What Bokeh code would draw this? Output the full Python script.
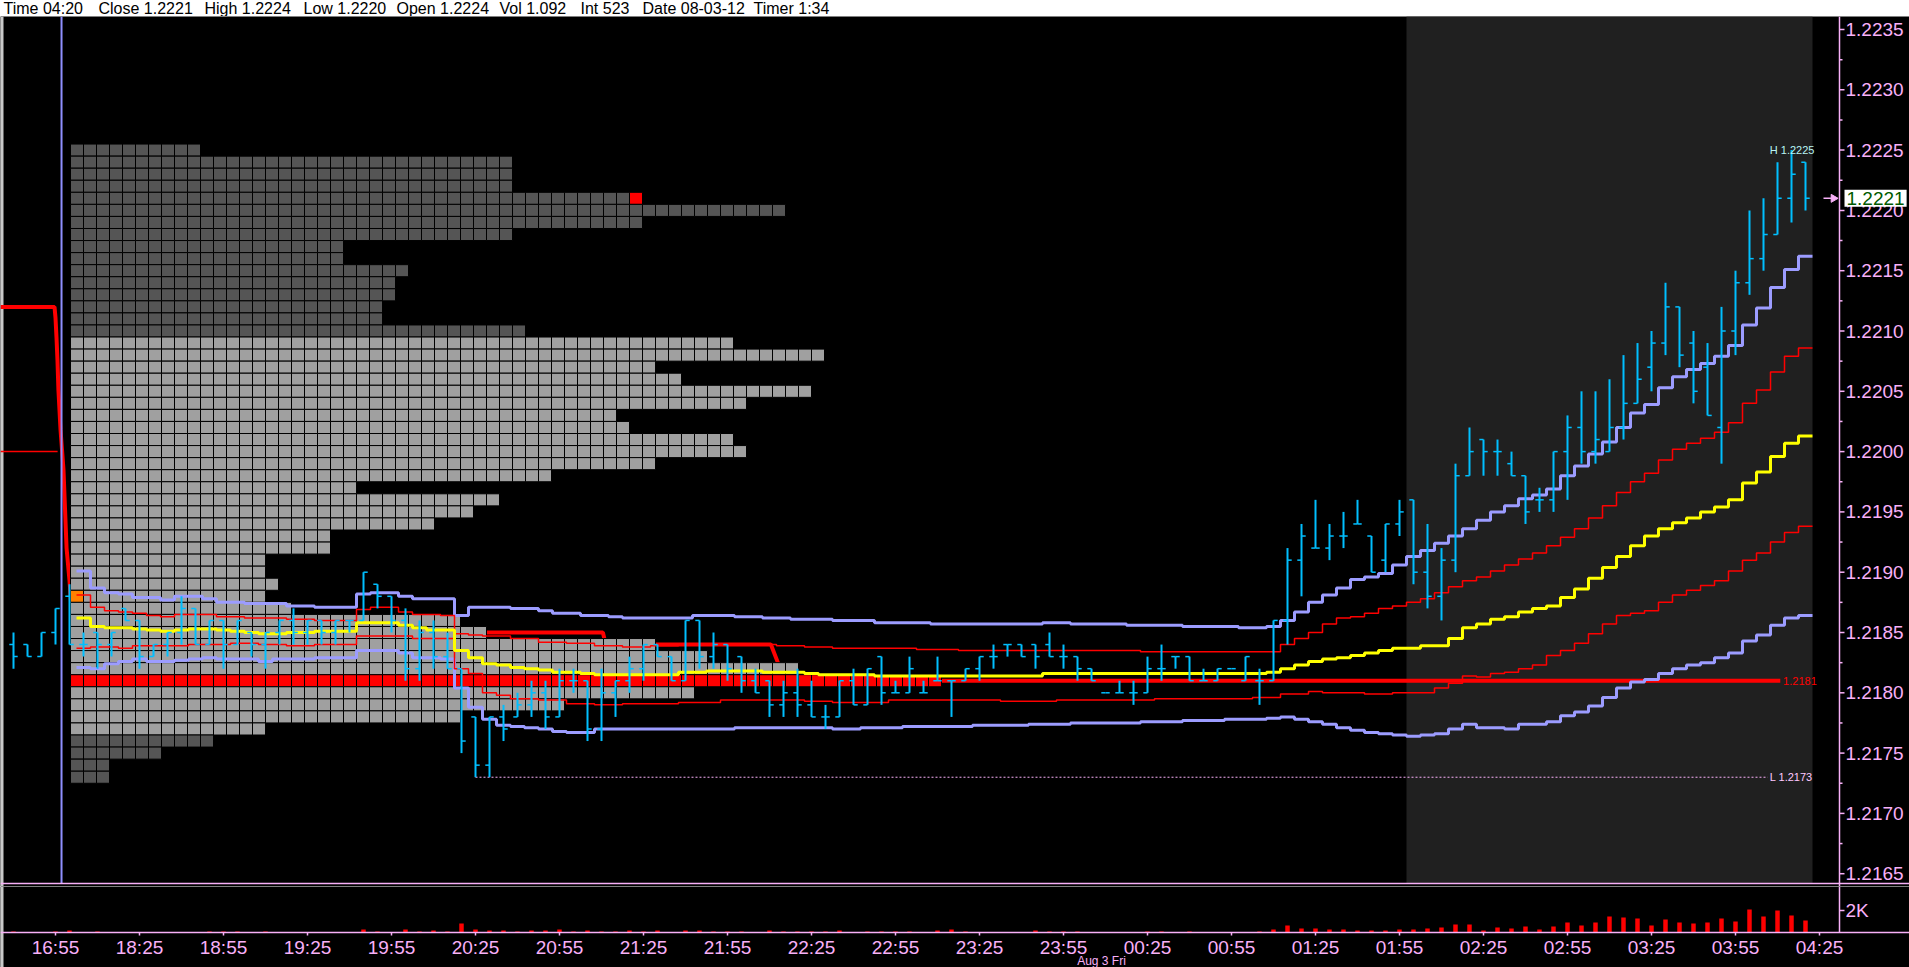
import math
from bokeh.plotting import figure
from bokeh.models import Range1d, FixedTicker, PrintfTickFormatter, Label, ColumnDataSource
from bokeh.layouts import column
from bokeh.embed import file_html
from bokeh.resources import INLINE
from bokeh.core.properties import value

# ------------------------------------------------------------------ DATA
header_fields = ["Time 04:20", "Close 1.2221", "High 1.2224", "Low 1.2220", "Open 1.2224",
                 "Vol 1.092", "Int 523", "Date 08-03-12", "Timer 1:34"]
header_x = [3, 98, 204, 303, 396, 499, 580, 642, 753]

bar_idx = list(range(-3, 126))
opens = [1.2184, 1.2184, 1.2183, 1.2185, 1.2188, 1.2184, 1.2185, 1.2184,
         1.2187, 1.2186, 1.2183, 1.2184, 1.2185, 1.2187, 1.2184, 1.2186, 1.2184, 1.2185,
         1.2184, 1.2185, 1.2186, 1.2185, 1.2186, 1.2185, 1.2186, 1.2186, 1.2189, 1.2188,
         1.2186, 1.2182, 1.2185, 1.2183, 1.2182, 1.2178, 1.2174, 1.2178, 1.2178, 1.2179,
         1.2180, 1.2178, 1.2181, 1.2181, 1.2177, 1.2180, 1.2181, 1.2182, 1.2184, 1.2183,
         1.2181, 1.2186, 1.2183, 1.2184, 1.2183, 1.2181, 1.2181, 1.2179, 1.2180, 1.2179,
         1.2178, 1.2178, 1.2181, 1.2179, 1.2183, 1.2180, 1.2180, 1.2180, 1.2181, 1.2181,
         1.2181, 1.2182, 1.2183, 1.2184, 1.2184, 1.2184, 1.2184, 1.2183, 1.2183, 1.2182,
         1.2180, 1.2180, 1.2180, 1.2180, 1.2182, 1.2183, 1.2183, 1.2181, 1.2181, 1.2182,
         1.2181, 1.2181, 1.2181, 1.2186, 1.2191, 1.2192, 1.2192, 1.2193, 1.2194, 1.2193,
         1.2191, 1.2194, 1.2196, 1.2190, 1.2188, 1.2191, 1.2198, 1.2201, 1.2200, 1.2199,
         1.2198, 1.2196, 1.2196, 1.2200, 1.2202, 1.2200, 1.2200, 1.2202, 1.2204, 1.2207,
         1.2209, 1.2212, 1.2209, 1.2207, 1.2202, 1.2210, 1.2214, 1.2216, 1.2218, 1.2221, 1.2224]
highs = [1.2185, 1.2184, 1.2185, 1.2187, 1.2189, 1.2185, 1.2185, 1.2185,
         1.2187, 1.2186, 1.2184, 1.2185, 1.2188, 1.2187, 1.2186, 1.2186, 1.2186, 1.2185,
         1.2185, 1.2186, 1.2187, 1.2186, 1.2186, 1.2186, 1.2186, 1.2190, 1.2189, 1.2188,
         1.2187, 1.2186, 1.2186, 1.2185, 1.2182, 1.2178, 1.2178, 1.2179, 1.2180, 1.2181,
         1.2181, 1.2182, 1.2182, 1.2181, 1.2182, 1.2181, 1.2183, 1.2184, 1.2184, 1.2183,
         1.2186, 1.2186, 1.2185, 1.2184, 1.2183, 1.2182, 1.2181, 1.2181, 1.2182, 1.2181,
         1.2179, 1.2181, 1.2182, 1.2182, 1.2183, 1.2181, 1.2183, 1.2181, 1.2183, 1.2181,
         1.2182, 1.2183, 1.2184, 1.2184, 1.2184, 1.2184, 1.2185, 1.2184, 1.2183, 1.2182,
         1.2180, 1.2181, 1.2181, 1.2183, 1.2184, 1.2183, 1.2183, 1.2182, 1.2182, 1.2182,
         1.2183, 1.2182, 1.2186, 1.2192, 1.2194, 1.2196, 1.2194, 1.2195, 1.2196, 1.2193,
         1.2194, 1.2196, 1.2196, 1.2194, 1.2192, 1.2199, 1.2202, 1.2201, 1.2201, 1.2200,
         1.2198, 1.2197, 1.2200, 1.2203, 1.2205, 1.2205, 1.2206, 1.2208, 1.2209, 1.2210,
         1.2214, 1.2212, 1.2210, 1.2209, 1.2212, 1.2215, 1.2220, 1.2221, 1.2224, 1.2225, 1.2224]
lows = [1.2182, 1.2183, 1.2183, 1.2184, 1.2184, 1.2183, 1.2182, 1.2183,
        1.2186, 1.2182, 1.2183, 1.2183, 1.2184, 1.2184, 1.2184, 1.2182, 1.2184, 1.2183,
        1.2182, 1.2184, 1.2184, 1.2184, 1.2184, 1.2184, 1.2185, 1.2186, 1.2187, 1.2185,
        1.2181, 1.2181, 1.2182, 1.2182, 1.2175, 1.2173, 1.2173, 1.2176, 1.2178, 1.2178,
        1.2177, 1.2178, 1.2180, 1.2176, 1.2176, 1.2178, 1.2180, 1.2181, 1.2183, 1.2181,
        1.2181, 1.2182, 1.2182, 1.2181, 1.2180, 1.2180, 1.2178, 1.2178, 1.2178, 1.2178,
        1.2177, 1.2178, 1.2179, 1.2179, 1.2179, 1.2180, 1.2180, 1.2180, 1.2181, 1.2178,
        1.2181, 1.2181, 1.2182, 1.2183, 1.2183, 1.2182, 1.2183, 1.2182, 1.2181, 1.2181,
        1.2180, 1.2180, 1.2179, 1.2180, 1.2181, 1.2182, 1.2181, 1.2181, 1.2181, 1.2182,
        1.2181, 1.2179, 1.2181, 1.2184, 1.2188, 1.2192, 1.2191, 1.2192, 1.2194, 1.2190,
        1.2190, 1.2193, 1.2189, 1.2187, 1.2186, 1.2190, 1.2198, 1.2198, 1.2198, 1.2198,
        1.2194, 1.2195, 1.2195, 1.2196, 1.2199, 1.2199, 1.2200, 1.2201, 1.2204, 1.2205,
        1.2208, 1.2207, 1.2204, 1.2203, 1.2199, 1.2208, 1.2213, 1.2215, 1.2218, 1.2219, 1.2220]
closes = [1.2183, 1.2183, 1.2185, 1.2187, 1.2184, 1.2184, 1.2184, 1.2185,
          1.2186, 1.2183, 1.2184, 1.2185, 1.2187, 1.2184, 1.2186, 1.2184, 1.2186, 1.2184,
          1.2185, 1.2186, 1.2185, 1.2186, 1.2185, 1.2186, 1.2186, 1.2190, 1.2188, 1.2186,
          1.2182, 1.2185, 1.2183, 1.2182, 1.2176, 1.2174, 1.2178, 1.2177, 1.2179, 1.2180,
          1.2178, 1.2181, 1.2181, 1.2177, 1.2180, 1.2181, 1.2182, 1.2184, 1.2183, 1.2181,
          1.2186, 1.2183, 1.2184, 1.2182, 1.2181, 1.2180, 1.2179, 1.2180, 1.2179, 1.2178,
          1.2178, 1.2181, 1.2179, 1.2182, 1.2180, 1.2180, 1.2182, 1.2180, 1.2181, 1.2181,
          1.2182, 1.2183, 1.2183, 1.2184, 1.2183, 1.2183, 1.2183, 1.2183, 1.2182, 1.2181,
          1.2180, 1.2180, 1.2180, 1.2182, 1.2182, 1.2183, 1.2181, 1.2181, 1.2182, 1.2182,
          1.2183, 1.2181, 1.2186, 1.2191, 1.2193, 1.2192, 1.2193, 1.2193, 1.2194, 1.2190,
          1.2194, 1.2195, 1.2190, 1.2188, 1.2191, 1.2198, 1.2200, 1.2200, 1.2200, 1.2198,
          1.2195, 1.2196, 1.2200, 1.2202, 1.2200, 1.2201, 1.2202, 1.2204, 1.2206, 1.2209,
          1.2212, 1.2208, 1.2205, 1.2203, 1.2210, 1.2214, 1.2216, 1.2218, 1.2221, 1.2223, 1.2221]
volumes = [90, 0, 0, 90, 180, 0, 90, 0,
           0, 0, 0, 0, 0, 0, 90, 90, 90, 0,
           90, 0, 0, 0, 0, 0, 0, 270, 90, 0,
           270, 90, 180, 90, 820, 270, 180, 180, 90, 180,
           180, 270, 90, 180, 90, 90, 180, 90, 180, 0,
           180, 180, 90, 90, 90, 0, 180, 90, 90, 90,
           90, 180, 0, 90, 90, 90, 90, 0, 180, 270,
           90, 0, 0, 0, 0, 180, 90, 90, 90, 0,
           0, 0, 0, 90, 90, 0, 90, 0, 0, 0,
           0, 90, 270, 640, 360, 360, 270, 270, 180, 180,
           180, 270, 270, 360, 455, 730, 730, 180, 455, 360,
           545, 270, 545, 910, 640, 910, 1455, 1365, 1270, 640,
           1180, 910, 820, 910, 1270, 1000, 2090, 1455, 2000, 1545, 1092]

# VWAP and deviation bands: (bar edge index where a step starts, price)
vwap = [(1.5, 1.21862), (2.5, 1.21855), (3.5, 1.21854), (5.5, 1.21853), (6.5, 1.21852), (7.5, 1.21851),
        (8.5, 1.21852), (9.5, 1.21853), (11.5, 1.21852), (12.5, 1.21851), (13.5, 1.21850), (14.5, 1.21849),
        (16.5, 1.21850), (18.5, 1.21851), (21.5, 1.21858), (24.5, 1.21856), (25.5, 1.21854), (26.5, 1.21852),
        (28.5, 1.21835), (29.5, 1.21829), (30.5, 1.21824), (31.5, 1.21823), (32.5, 1.21821), (33.5, 1.21820),
        (34.5, 1.21819), (35.5, 1.21817), (37.5, 1.21816), (38.5, 1.21815), (44.5, 1.21817), (46.5, 1.21818),
        (50.5, 1.21817), (53.5, 1.21816), (54.5, 1.21815), (58.5, 1.21814), (70.5, 1.21816), (86.5, 1.21817),
        (87.5, 1.21820), (88.5, 1.21823), (89.5, 1.21826), (90.5, 1.21828), (91.5, 1.21829), (92.5, 1.21831),
        (93.5, 1.21833), (94.5, 1.21835), (95.5, 1.21837), (97.5, 1.21839), (99.5, 1.21845), (100.5, 1.21854),
        (101.5, 1.21857), (102.5, 1.21861), (103.5, 1.21863), (104.5, 1.21867), (105.5, 1.21870),
        (106.5, 1.21872), (107.5, 1.21879), (108.5, 1.21886), (109.5, 1.21895), (110.5, 1.21904),
        (111.5, 1.21913), (112.5, 1.21922), (113.5, 1.21930), (114.5, 1.21936), (115.5, 1.21941),
        (116.5, 1.21945), (117.5, 1.21950), (118.5, 1.21954), (119.5, 1.21960), (120.5, 1.21974),
        (121.5, 1.21983), (122.5, 1.21996), (123.5, 1.22007), (124.5, 1.22013), (125.5, 1.22013)]
band_up1 = [(1.5, 1.21881), (2.5, 1.21871), (3.5, 1.21868), (4.5, 1.21867), (5.5, 1.21866), (6.5, 1.21864),
            (7.5, 1.21863), (8.5, 1.21865), (11.5, 1.21863), (13.5, 1.21862), (16.5, 1.21861), (18.5, 1.21860),
            (21.5, 1.21869), (22.5, 1.21871), (24.5, 1.21867), (25.5, 1.21865), (27.5, 1.21864), (28.5, 1.21849),
            (29.5, 1.21848), (30.5, 1.21847), (32.5, 1.21845), (34.5, 1.21842), (36.5, 1.21841), (38.5, 1.21839),
            (40.5, 1.21838), (42.5, 1.21839), (44.5, 1.21840), (51.5, 1.21839), (53.5, 1.21838), (55.5, 1.21837),
            (61.5, 1.21836), (64.5, 1.21835), (77.5, 1.21834), (87.5, 1.21840), (88.5, 1.21845), (89.5, 1.21850),
            (90.5, 1.21857), (91.5, 1.21862), (92.5, 1.21863), (93.5, 1.21866), (94.5, 1.21870), (95.5, 1.21872),
            (96.5, 1.21875), (97.5, 1.21878), (98.5, 1.21883), (99.5, 1.21888), (100.5, 1.21893),
            (101.5, 1.21896), (102.5, 1.21901), (103.5, 1.21906), (104.5, 1.21911), (105.5, 1.21916),
            (106.5, 1.21922), (107.5, 1.21929), (108.5, 1.21936), (109.5, 1.21945), (110.5, 1.21955),
            (111.5, 1.21966), (112.5, 1.21975), (113.5, 1.21982), (114.5, 1.21993), (115.5, 1.22002),
            (116.5, 1.22007), (117.5, 1.22011), (118.5, 1.22016), (119.5, 1.22024), (120.5, 1.22040),
            (121.5, 1.22051), (122.5, 1.22066), (123.5, 1.22079), (124.5, 1.22086), (125.5, 1.22086)]
band_dn1 = [(1.5, 1.21837), (2.5, 1.21838), (4.5, 1.21837), (5.5, 1.21839), (9.5, 1.21840), (12.5, 1.21841),
            (14.5, 1.21840), (16.5, 1.21839), (18.5, 1.21840), (21.5, 1.21847), (25.5, 1.21845), (28.5, 1.21820),
            (29.5, 1.21816), (30.5, 1.21800), (31.5, 1.21798), (32.5, 1.21795), (34.5, 1.21794), (36.5, 1.21791),
            (38.5, 1.21790), (40.5, 1.21791), (44.5, 1.21792), (47.5, 1.21794), (53.5, 1.21793), (55.5, 1.21792),
            (59.5, 1.21794), (67.5, 1.21793), (71.5, 1.21794), (78.5, 1.21795), (85.5, 1.21796), (87.5, 1.21799),
            (89.5, 1.21801), (90.5, 1.21800), (93.5, 1.21799), (95.5, 1.21800), (98.5, 1.21804), (99.5, 1.21808),
            (100.5, 1.21814), (101.5, 1.21813), (102.5, 1.21816), (103.5, 1.21817), (104.5, 1.21820),
            (105.5, 1.21823), (106.5, 1.21831), (107.5, 1.21835), (108.5, 1.21841), (109.5, 1.21849),
            (110.5, 1.21857), (111.5, 1.21864), (112.5, 1.21866), (113.5, 1.21868), (114.5, 1.21875),
            (115.5, 1.21881), (116.5, 1.21885), (117.5, 1.21889), (118.5, 1.21893), (119.5, 1.21901),
            (120.5, 1.21910), (121.5, 1.21916), (122.5, 1.21925), (123.5, 1.21933), (124.5, 1.21938),
            (125.5, 1.21938)]
band_up2 = [(1.5, 1.21901), (2.5, 1.21887), (3.5, 1.21883), (4.5, 1.21882), (5.5, 1.21879), (7.5, 1.21877),
            (8.5, 1.21880), (10.5, 1.21878), (11.5, 1.21875), (13.5, 1.21874), (16.5, 1.21872), (18.5, 1.21871),
            (21.5, 1.21882), (22.5, 1.21883), (24.5, 1.21880), (25.5, 1.21878), (28.5, 1.21864), (29.5, 1.21871),
            (32.5, 1.21870), (34.5, 1.21868), (35.5, 1.21866), (37.5, 1.21864), (39.5, 1.21863), (40.5, 1.21862),
            (45.5, 1.21864), (48.5, 1.21863), (50.5, 1.21862), (52.5, 1.21861), (55.5, 1.21860), (58.5, 1.21858),
            (62.5, 1.21857), (70.5, 1.21858), (72.5, 1.21857), (76.5, 1.21856), (80.5, 1.21855), (84.5, 1.21854),
            (86.5, 1.21855), (87.5, 1.21860), (88.5, 1.21867), (89.5, 1.21875), (90.5, 1.21881), (91.5, 1.21887),
            (92.5, 1.21894), (93.5, 1.21896), (94.5, 1.21899), (95.5, 1.21906), (96.5, 1.21913), (97.5, 1.21918),
            (98.5, 1.21924), (99.5, 1.21930), (100.5, 1.21936), (101.5, 1.21943), (102.5, 1.21950),
            (103.5, 1.21955), (104.5, 1.21961), (105.5, 1.21964), (106.5, 1.21969), (107.5, 1.21980),
            (108.5, 1.21988), (109.5, 1.21998), (110.5, 1.22008), (111.5, 1.22020), (112.5, 1.22032),
            (113.5, 1.22039), (114.5, 1.22053), (115.5, 1.22062), (116.5, 1.22068), (117.5, 1.22073),
            (118.5, 1.22079), (119.5, 1.22088), (120.5, 1.22105), (121.5, 1.22119), (122.5, 1.22136),
            (123.5, 1.22151), (124.5, 1.22162), (125.5, 1.22162)]
band_dn2 = [(1.5, 1.21821), (2.5, 1.21820), (3.5, 1.21824), (4.5, 1.21826), (5.5, 1.21828), (6.5, 1.21826),
            (8.5, 1.21827), (9.5, 1.21828), (10.5, 1.21829), (11.5, 1.21828), (14.5, 1.21826), (15.5, 1.21828),
            (18.5, 1.21829), (21.5, 1.21835), (24.5, 1.21833), (25.5, 1.21829), (27.5, 1.21828), (28.5, 1.21804),
            (29.5, 1.21788), (30.5, 1.21778), (31.5, 1.21773), (32.5, 1.21772), (33.5, 1.21771), (34.5, 1.21770),
            (35.5, 1.21768), (36.5, 1.21767), (38.5, 1.21770), (48.5, 1.21771), (54.5, 1.21771), (55.5, 1.21770),
            (57.5, 1.21771), (60.5, 1.21772), (65.5, 1.21773), (69.5, 1.21774), (72.5, 1.21775), (77.5, 1.21776),
            (80.5, 1.21777), (83.5, 1.21778), (86.5, 1.21779), (87.5, 1.21780), (88.5, 1.21778), (89.5, 1.21776),
            (90.5, 1.21774), (91.5, 1.21771), (92.5, 1.21769), (93.5, 1.21767), (94.5, 1.21766), (95.5, 1.21765),
            (96.5, 1.21764), (97.5, 1.21765), (98.5, 1.21766), (99.5, 1.21770), (100.5, 1.21774),
            (101.5, 1.21771), (103.5, 1.21770), (104.5, 1.21774), (106.5, 1.21776), (107.5, 1.21781),
            (108.5, 1.21784), (109.5, 1.21789), (110.5, 1.21796), (111.5, 1.21804), (112.5, 1.21809),
            (113.5, 1.21811), (114.5, 1.21816), (115.5, 1.21820), (116.5, 1.21823), (117.5, 1.21825),
            (118.5, 1.21829), (119.5, 1.21833), (120.5, 1.21843), (121.5, 1.21848), (122.5, 1.21856),
            (123.5, 1.21862), (124.5, 1.21864), (125.5, 1.21864)]
# developing point of control (thick red)
dpoc = [(-3.93, 1.2212), (-0.07, 1.2212), (0.0, 1.22111), (0.07, 1.22095), (0.14, 1.22076), (0.21, 1.22051),
        (0.36, 1.22018), (0.57, 1.21985), (0.79, 1.21920), (1.0, 1.21893), (1.2, 1.2186), (1.5, 1.2185),
        (39.1, 1.2185), (39.3, 1.2184), (51.1, 1.2184), (51.6, 1.21825), (52.0, 1.2181), (123.2, 1.2181)]
prev_band = [(-3.93, 1.2200), (0.15, 1.2200)]

# market profile (TPO counts per price row, from 1.2225 downward)
PROFILE_TOP = 1.2225
profile_counts = [10, 34, 34, 34, 44, 55, 44, 34, 21, 21, 26, 25, 25, 24, 24, 35,
                  51, 58, 45, 47, 57, 52, 42, 43, 51, 52, 45, 37, 22, 33, 31, 28, 20, 20,
                  15, 15, 16, 15, 17, 30, 32, 45, 49, 56, 67, 48, 38, 30, 15,
                  11, 7, 3, 3]
VA_HIGH, VA_LOW, POC = 1.2209, 1.2177, 1.2181

time_tick_idx = [0, 6, 12, 18, 24, 30, 36, 42, 48, 54, 60, 66, 72, 78, 84, 90, 96, 102, 108, 114, 120, 126]
time_tick_labels = ["16:55", "18:25", "18:55", "19:25", "19:55", "20:25", "20:55", "21:25", "21:55", "22:25",
                    "22:55", "23:25", "23:55", "00:25", "00:55", "01:25", "01:55", "02:25", "02:55", "03:25",
                    "03:55", "04:25"]
date_label = "Aug 3 Fri"
price_ticks = [1.2165, 1.2170, 1.2175, 1.2180, 1.2185, 1.2190, 1.2195, 1.2200, 1.2205, 1.2210,
               1.2215, 1.2220, 1.2225, 1.2230, 1.2235]
vol_ticks = [2000]
SESSION_START = 0.43
LONDON_START, LONDON_END = 96.5, 125.5

# ------------------------------------------------------------------ STYLE / LAYOUT
PINK = "#F8B0F8"
CYAN = "#00BFFF"
LAV = "#9C9CFF"
RED = "#FF0000"
YEL = "#FFFF00"
DARK = "#555555"
LIGHT = "#A0A0A0"
FONT = "Liberation Sans"
W = 1909


def XE(px):      # reference pixel column -> bar index
    return (px - 55) / 14.0


def PY(py):      # reference pixel row -> price
    return 1.2180 + (692.3 - py) / 120600.0


def VY(py):      # reference pixel row -> volume
    return (932 - py) * 2000 / 22.0


X0, X1 = XE(0), XE(W)
P_TOP, P_BOT = PY(16), PY(886)
AXIS_X = XE(1839)


def strip(fig):
    fig.background_fill_color = "black"
    fig.border_fill_color = "black"
    fig.outline_line_color = None
    fig.grid.visible = False


def side_axis(ax, standoff):
    ax.axis_line_color = None
    ax.major_tick_line_color = None
    ax.minor_tick_line_color = None
    ax.major_tick_out = 0
    ax.major_tick_in = 0
    ax.minor_tick_out = 0
    ax.minor_tick_in = 0
    ax.major_label_standoff = standoff
    ax.major_label_text_color = PINK
    ax.major_label_text_font = FONT
    ax.major_label_text_font_size = "19px"


# header strip
hdr = figure(frame_width=W, frame_height=16, x_range=Range1d(0, W), y_range=Range1d(0, 16),
             output_backend="svg", toolbar_location=None, x_axis_location=None, y_axis_location=None,
             min_border=0)
hdr.background_fill_color = "white"
hdr.border_fill_color = "white"
hdr.outline_line_color = None
hdr.grid.visible = False
hdr.text(x=header_x, y=[8.5] * len(header_x), text=header_fields, text_font=value(FONT),
         text_font_size="16px", text_baseline="middle", text_color="black")

# price panel
p = figure(frame_width=W, frame_height=870, x_range=Range1d(X0, X1), y_range=Range1d(P_BOT, P_TOP),
           output_backend="svg", toolbar_location=None, x_axis_location=None, y_axis_location="right",
           min_border=0)
strip(p)
ya = p.yaxis[0]
ya.ticker = FixedTicker(ticks=price_ticks, minor_ticks=[])
ya.formatter = PrintfTickFormatter(format="%.4f")
side_axis(ya, -64)

minor_price = [t + 0.00025 for t in price_ticks] + [price_ticks[0] - 0.00025]

# window edge and current-session shading
p.quad(left=[X0], right=[X0 + 3 / 14.0], bottom=[P_BOT], top=[P_TOP], fill_color="#C8C8C8", line_color=None)
p.quad(left=[LONDON_START], right=[LONDON_END], bottom=[PY(883)], top=[P_TOP], fill_color="#202020",
       line_color=None)

# developing POC + previous band (under the profile)
p.line([d[0] for d in prev_band], [d[1] for d in prev_band], line_color=RED, line_width=1.5)
p.line([d[0] for d in dpoc], [d[1] for d in dpoc], line_color=RED, line_width=4)

# market profile cells
CELL_X0 = XE(70)
CELL_W = 13 / 14.0
session_open = opens[bar_idx.index(1)]
last_price = closes[-1]
cl, cr, cb, ct, cc = [], [], [], [], []
for k, n in enumerate(profile_counts):
    pr = round(PROFILE_TOP - 0.0001 * k, 4)
    for j in range(n):
        if abs(pr - POC) < 1e-7:
            col = RED
        elif abs(pr - session_open) < 1e-7 and j == 0:
            col = "#FF8000"
        elif abs(pr - last_price) < 1e-7 and j == n - 1:
            col = RED
        elif VA_LOW - 1e-7 <= pr <= VA_HIGH + 1e-7:
            col = LIGHT
        else:
            col = DARK
        cl.append(CELL_X0 + j * CELL_W)
        cr.append(CELL_X0 + (j + 1) * CELL_W)
        cb.append(pr - 0.00005)
        ct.append(pr + 0.00005)
        cc.append(col)
p.quad(left=cl, right=cr, bottom=cb, top=ct, fill_color=cc, line_color="black", line_width=1)

# session start line
p.segment(x0=[SESSION_START], y0=[PY(883)], x1=[SESSION_START], y1=[P_TOP], line_color="#9090FF", line_width=2)

# session low dotted line
lo = min(lows)
lo_i = bar_idx[lows.index(lo)]
p.segment(x0=[lo_i], y0=[lo], x1=[122.3], y1=[lo], line_color=PINK, line_width=1, line_dash="2 2")


def stepline(pts, color, width):
    p.step([q[0] for q in pts], [q[1] for q in pts], mode="after", line_color=color, line_width=width)


stepline(band_up2, LAV, 3)
stepline(band_dn2, LAV, 3)
stepline(band_up1, RED, 1.5)
stepline(band_dn1, RED, 1.5)
stepline(vwap, YEL, 3)

# OHLC bars
src = ColumnDataSource(dict(x=bar_idx, o=opens, h=highs, l=lows, c=closes,
                            xl=[b - 0.3 for b in bar_idx], xr=[b + 0.3 for b in bar_idx]))
p.segment(x0="x", y0="l", x1="x", y1="h", source=src, line_color=CYAN, line_width=2)
p.segment(x0="xl", y0="o", x1="x", y1="o", source=src, line_color=CYAN, line_width=1.5)
p.segment(x0="x", y0="c", x1="xr", y1="c", source=src, line_color=CYAN, line_width=1.5)

hi = max(highs)
p.text(x=[122.45], y=[hi], text=["H %.4f" % hi], text_font=value(FONT), text_font_size="11px",
       text_baseline="middle", text_color="#B8F4F4")
p.text(x=[122.45], y=[lo], text=["L %.4f" % lo], text_font=value(FONT), text_font_size="11px",
       text_baseline="middle", text_color="#FFC8FF")
p.text(x=[123.4], y=[POC], text=["%.4f" % POC], text_font=value(FONT), text_font_size="11px",
       text_baseline="middle", text_color=RED)

# price-axis rule, ticks and panel separator
p.segment(x0=[AXIS_X], y0=[P_BOT], x1=[AXIS_X], y1=[P_TOP], line_color=PINK, line_width=1.5)
p.segment(x0=[AXIS_X] * len(price_ticks), y0=price_ticks, x1=[XE(1844)] * len(price_ticks), y1=price_ticks,
          line_color=PINK, line_width=1.5)
p.segment(x0=[AXIS_X] * len(minor_price), y0=minor_price, x1=[XE(1842)] * len(minor_price), y1=minor_price,
          line_color=PINK, line_width=1.5)
p.segment(x0=[X0], y0=[PY(883)], x1=[X1], y1=[PY(883)], line_color=PINK, line_width=1.5)

# current price marker
p.segment(x0=[XE(1823)], y0=[last_price], x1=[XE(1832)], y1=[last_price], line_color=PINK, line_width=1.5)
p.scatter(x=[XE(1833)], y=[last_price], marker="triangle", angle=-math.pi / 2, size=8,
          fill_color=PINK, line_color=PINK)
p.add_layout(Label(x=XE(1844), y=last_price, text="%.4f" % last_price, text_color="#005A00", text_font=FONT,
                   text_font_size="19px", text_baseline="middle", background_fill_color="white",
                   padding=2))

# volume panel
v = figure(frame_width=W, frame_height=81, x_range=p.x_range, y_range=Range1d(VY(967), VY(886)),
           output_backend="svg", toolbar_location=None, x_axis_location="below", y_axis_location="right",
           min_border=0)
strip(v)
v.quad(left=[X0], right=[X0 + 3 / 14.0], bottom=[VY(967)], top=[VY(886)], fill_color="#C8C8C8", line_color=None)
v.vbar(x=bar_idx, top=volumes, bottom=0, width=0.32, fill_color=RED, line_color=None)
v.segment(x0=[AXIS_X], y0=[0], x1=[AXIS_X], y1=[VY(886)], line_color=PINK, line_width=1.5)
v.segment(x0=[X0], y0=[0], x1=[X1], y1=[0], line_color=PINK, line_width=1.5)
v.segment(x0=time_tick_idx, y0=[0] * len(time_tick_idx), x1=time_tick_idx, y1=[VY(935)] * len(time_tick_idx),
          line_color=PINK, line_width=1.5)
v.segment(x0=[AXIS_X] * len(vol_ticks), y0=vol_ticks, x1=[XE(1844)] * len(vol_ticks), y1=vol_ticks,
          line_color=PINK, line_width=1.5)
xa = v.xaxis[0]
xa.ticker = FixedTicker(ticks=time_tick_idx, minor_ticks=[])
xa.major_label_overrides = {t: s for t, s in zip(time_tick_idx, time_tick_labels)}
side_axis(xa, -31)
va = v.yaxis[0]
va.ticker = FixedTicker(ticks=vol_ticks, minor_ticks=[])
va.major_label_overrides = {2000: "2K"}
side_axis(va, -64)
v.text(x=[XE(1101)], y=[VY(953)], text=[date_label], text_font=value(FONT), text_font_size="12px",
       text_baseline="top", text_align="center", text_color=PINK)

layout = column(hdr, p, v, spacing=0)
open("out.html", "w").write(file_html(layout, INLINE))
